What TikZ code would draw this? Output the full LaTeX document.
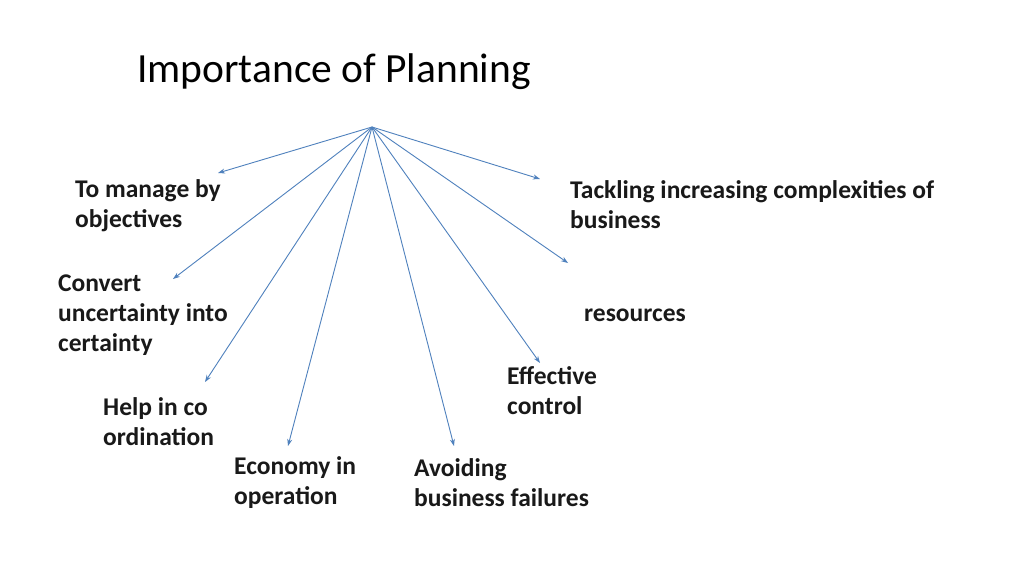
\documentclass[tikz,border=0pt]{standalone}
\usepackage{fontspec}
\setmainfont{Carlito}
\usetikzlibrary{arrows.meta}
\definecolor{ln}{RGB}{79,129,189}
\begin{document}
\begin{tikzpicture}[x=1pt,y=-1pt,
  lbl/.style={anchor=west,align=left,inner sep=0pt,font=\fontsize{25.5}{30}\selectfont\bfseries,text=black!90},
  arr/.style={draw=ln,line width=0.9pt,-{Stealth[length=7pt,width=5pt]}}]
\useasboundingbox (0,0) rectangle (1024,576);
\fill[white] (0,0) rectangle (1024,576);
\node[anchor=west,inner sep=0pt,font=\fontsize{41.5}{44}\selectfont] (title) at (137,72) {Importance of Planning};
\coordinate (c) at (372,127);
\node[lbl] (l1) at (75,206) {To manage by\\objectives};
\node[lbl] (l2) at (58,315) {Convert\\uncertainty into\\certainty};
\node[lbl] (l3) at (103,422) {Help in co\\ordination};
\node[lbl] (l4) at (234,483) {Economy in\\operation};
\node[lbl] (l5) at (414,483) {Avoiding\\business failures};
\node[lbl] (l6) at (507,391) {Effective\\control};
\node[lbl] (l7) at (584,315) {resources};
\node[lbl] (l8) at (570,205) {Tackling increasing complexities of\\business};
\coordinate (e1) at (218,173);
\coordinate (e2) at (173,279);
\coordinate (e3) at (205,382);
\coordinate (e4) at (288,446);
\coordinate (e5) at (454,446);
\coordinate (e6) at (540,363);
\coordinate (e7) at (568,263);
\coordinate (e8) at (540,179);
\foreach \e in {e1,e2,e3,e4,e5,e6,e7,e8} \draw[arr] (c) -- (\e);
\end{tikzpicture}
\end{document}
